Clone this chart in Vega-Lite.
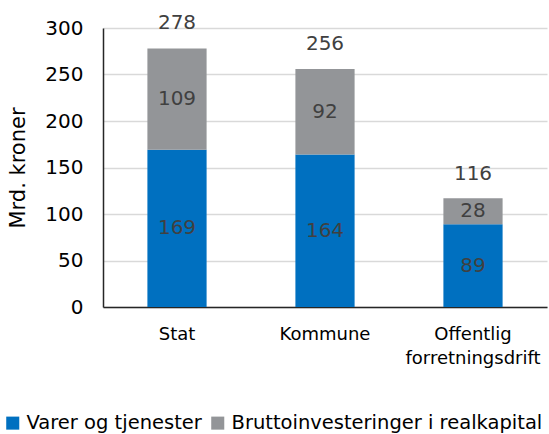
{
  "$schema": "https://vega.github.io/schema/vega-lite/v6.json",
  "autosize": {"type": "none"},
  "width": 444,
  "height": 279,
  "padding": {"left": 103, "top": 28, "right": 2, "bottom": 127},
  "config": {
    "font": "DejaVu Sans",
    "view": {"stroke": null}
  },
  "datasets": {
    "parts": [
      {"sektor": "Stat", "type": "Varer og tjenester", "verdi": 169},
      {"sektor": "Stat", "type": "Bruttoinvesteringer i realkapital", "verdi": 109},
      {"sektor": "Kommune", "type": "Varer og tjenester", "verdi": 164},
      {"sektor": "Kommune", "type": "Bruttoinvesteringer i realkapital", "verdi": 92},
      {"sektor": "Offentlig forretningsdrift", "type": "Varer og tjenester", "verdi": 89},
      {"sektor": "Offentlig forretningsdrift", "type": "Bruttoinvesteringer i realkapital", "verdi": 28}
    ],
    "totals": [
      {"sektor": "Stat", "total": 278},
      {"sektor": "Kommune", "total": 256},
      {"sektor": "Offentlig forretningsdrift", "total": 116}
    ]
  },
  "layer": [
    {
      "data": {"name": "parts"},
      "transform": [
        {"calculate": "datum.type === 'Varer og tjenester' ? 0 : 1", "as": "rank"},
        {"stack": "verdi", "groupby": ["sektor"], "sort": [{"field": "rank"}], "as": ["y0", "y1"]},
        {"calculate": "(datum.y0 + datum.y1) / 2", "as": "mid"}
      ],
      "layer": [
        {
          "mark": {"type": "bar"},
          "encoding": {
            "x": {"field": "sektor", "type": "nominal", "sort": ["Stat", "Kommune", "Offentlig forretningsdrift"],
              "scale": {"paddingInner": 0.6, "paddingOuter": 0.3},
              "axis": {"title": null, "labelAngle": 0, "labelFontSize": 18, "labelColor": "#000000",
                "domainColor": "#262626", "domainWidth": 1.5, "ticks": false, "labelPadding": 18,
                "labelLineHeight": 24,
                "labelExpr": "datum.label == 'Offentlig forretningsdrift' ? ['Offentlig', 'forretningsdrift'] : datum.label"}},
            "y": {"field": "y1", "type": "quantitative", "scale": {"domain": [0, 300]},
              "axis": {"title": "Mrd. kroner", "titleFontSize": 21, "titleFontWeight": "normal", "titleColor": "#000000",
                "titlePadding": 16, "values": [0, 50, 100, 150, 200, 250, 300], "labelFontSize": 20,
                "labelColor": "#000000", "labelPadding": 20, "ticks": false, "domainColor": "#262626",
                "domainWidth": 1.5, "gridColor": "#d9d9d9", "gridWidth": 1.5}},
            "y2": {"field": "y0"},
            "color": {"field": "type", "type": "nominal",
              "scale": {"domain": ["Varer og tjenester", "Bruttoinvesteringer i realkapital"], "range": ["#0070c0", "#939598"]},
              "legend": {"title": null, "orient": "none", "legendX": -100, "legendY": 385, "direction": "horizontal",
                "symbolType": "square", "symbolSize": 170, "symbolStrokeWidth": 0, "labelFontSize": 19.5,
                "labelColor": "#000000", "columnPadding": 6, "labelOffset": 4, "labelLimit": 400}}
          }
        },
        {
          "mark": {"type": "text", "fontSize": 20, "color": "#404040"},
          "encoding": {
            "x": {"field": "sektor", "type": "nominal", "sort": ["Stat", "Kommune", "Offentlig forretningsdrift"]},
            "y": {"field": "mid", "type": "quantitative"},
            "text": {"field": "verdi", "type": "quantitative"}
          }
        }
      ]
    },
    {
      "data": {"name": "totals"},
      "mark": {"type": "text", "fontSize": 20, "color": "#404040", "dy": -25},
      "encoding": {
        "x": {"field": "sektor", "type": "nominal", "sort": ["Stat", "Kommune", "Offentlig forretningsdrift"]},
        "y": {"field": "total", "type": "quantitative"},
        "text": {"field": "total", "type": "quantitative"}
      }
    }
  ]
}
